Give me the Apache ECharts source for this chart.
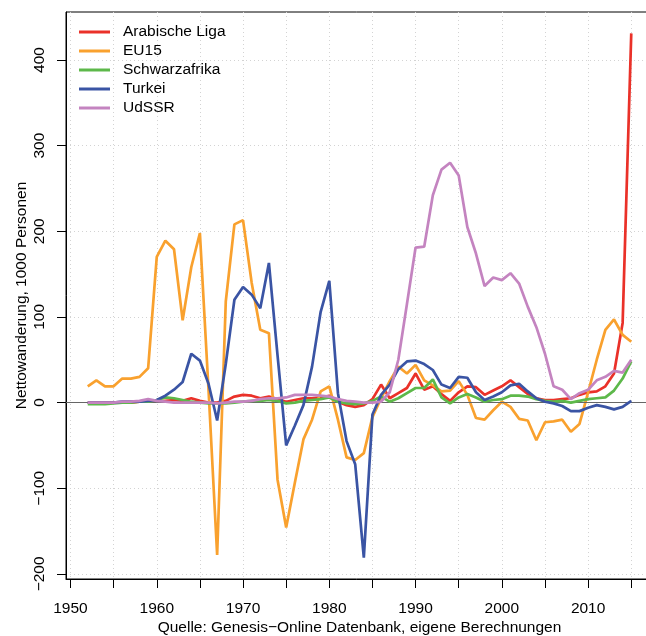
<!DOCTYPE html>
<html>
<head>
<meta charset="utf-8">
<script src="https://cdn.jsdelivr.net/npm/echarts@6/dist/echarts.min.js"></script>
<style>
    html, body { margin: 0; padding: 0; background: #fff; }
    #chart { width: 646px; height: 636px; }
</style>
</head>
<body>
<div id="chart"></div>
<script>
    var years = [1952, 1953, 1954, 1955, 1956, 1957, 1958, 1959, 1960, 1961, 1962, 1963, 1964, 1965, 1966, 1967,
        1968, 1969, 1970, 1971, 1972, 1973, 1974, 1975, 1976, 1977, 1978, 1979, 1980, 1981, 1982, 1983,
        1984, 1985, 1986, 1987, 1988, 1989, 1990, 1991, 1992, 1993, 1994, 1995, 1996, 1997, 1998, 1999,
        2000, 2001, 2002, 2003, 2004, 2005, 2006, 2007, 2008, 2009, 2010, 2011, 2012, 2013, 2014, 2015];

    var arabischeLiga = [0, 0, 0, 0, 0, 0, 1, 1, 1, 2, 3, 2, 5, 2, 0, 0,
        2, 7, 9, 8, 5, 7, 4, 1, 3, 5, 5, 6, 8, 1, -3, -5,
        -3, 4, 21, 5, 11, 17, 34, 15, 19, 10, 2, 12, 19, 18, 9, 14,
        19, 26, 18, 10, 5, 3, 3, 4, 5, 9, 12, 13, 19, 34, 93, 431];

    var eu15 = [19, 26, 19, 19, 28, 28, 30, 40, 170, 189, 179, 96, 158, 198, 15, -178,
        118, 208, 213, 140, 85, 81, -90, -146, -94, -43, -20, 13, 19, -20, -64, -67,
        -59, -17, 5, 25, 42, 34, 44, 26, 20, 13, 14, 25, 9, -18, -20, -9,
        1, -5, -19, -21, -44, -23, -22, -20, -34, -25, 12, 50, 85, 97, 79, 71];

    var schwarzafrika = [-2, -2, -2, -1, 0, 0, 1, 1, 3, 6, 5, 3, 1, 0, -1, -1,
        -1, 0, 1, 2, 2, 3, 2, -1, 0, 2, 3, 4, 6, 1, -1, -2,
        -1, 2, 7, 1, 5, 11, 17, 17, 27, 6, -1, 6, 10, 6, 1, 3,
        4, 8, 8, 7, 4, 2, 1, 2, 0, 2, 4, 5, 6, 14, 28, 48];

    var turkei = [0, 0, 0, 0, 1, 1, 1, 2, 3, 8, 15, 24, 57, 49, 22, -21,
        45, 120, 135, 126, 110, 163, 55, -50, -27, -3, 42, 106, 142, 11, -45, -72,
        -181, -14, 9, 21, 39, 48, 49, 45, 38, 21, 17, 30, 29, 12, 3, 7,
        12, 20, 22, 13, 5, 1, -1, -4, -10, -10, -6, -3, -5, -8, -5, 2];

    var udssr = [0, 0, 0, 0, 1, 1, 2, 4, 2, 1, 0, 0, 0, 0, 0, -1,
        0, 1, 1, 2, 4, 5, 5, 6, 9, 9, 9, 8, 7, 4, 2, 1,
        0, 0, 1, 12, 50, 115, 181, 182, 242, 272, 280, 265, 205, 174, 136, 146,
        143, 151, 139, 112, 88, 57, 19, 15, 4, 11, 15, 26, 30, 37, 35, 50];

    var seriesNames = ['Arabische Liga', 'EU15', 'Schwarzafrika', 'Turkei', 'UdSSR'];
    var seriesValues = [arabischeLiga, eu15, schwarzafrika, turkei, udssr];
    var seriesColors = ['#EA3129', '#F9A12E', '#5DB84A', '#3A54A4', '#C484C0'];

    var xTicks = [1950, 1955, 1960, 1965, 1970, 1975, 1980, 1985, 1990, 1995, 2000, 2005, 2010, 2015];
    var xLabels = [1950, 1960, 1970, 1980, 1990, 2000, 2010];
    var yTicks = [-200, -100, 0, 100, 200, 300, 400];

    var font = 'Liberation Sans, Arial, Helvetica, sans-serif';

    function pairs(values) {
        return years.map(function (y, i) { return [y, values[i]]; });
    }

    var series = seriesNames.map(function (name, i) {
        var s = {
            name: name,
            type: 'line',
            data: pairs(seriesValues[i]),
            symbol: 'none',
            lineStyle: { width: 2.7, color: seriesColors[i] },
            itemStyle: { color: seriesColors[i] },
            z: 3 + i
        };
        if (i === 0) {
            // h = 0 Referenzlinie
            s.markLine = {
                silent: true,
                symbol: ['none', 'none'],
                label: { show: false },
                lineStyle: { color: '#666', width: 1, type: 'solid' },
                data: [{ yAxis: 0 }]
            };
        }
        return s;
    });

    var myChart = echarts.init(document.getElementById('chart'));

    var option = {
        animation: false,
        textStyle: { fontFamily: font },
        grid: {
            left: 66,
            right: -7,
            top: 12,
            bottom: 57,
            outerBoundsMode: 'none',
            show: true,
            borderColor: '#000',
            borderWidth: 1
        },
        legend: {
            orient: 'vertical',
            left: 79,
            top: 22.5,
            padding: 0,
            icon: 'rect',
            itemWidth: 31,
            itemHeight: 3,
            itemGap: 0,
            data: seriesNames,
            textStyle: { fontSize: 15.5, color: '#000', lineHeight: 19, padding: [0, 0, 0, 8] }
        },
        xAxis: {
            type: 'value',
            min: 1949.48,
            max: 2017.52,
            name: 'Quelle: Genesis\u2212Online Datenbank, eigene Berechnungen',
            nameLocation: 'middle',
            nameGap: 41,
            nameMoveOverlap: false,
            nameTextStyle: { fontSize: 15.5, color: '#000' },
            axisLine: { show: true, onZero: false, lineStyle: { color: '#000', width: 1 } },
            axisTick: { show: true, length: 9, customValues: xTicks, lineStyle: { color: '#000' } },
            axisLabel: {
                customValues: xLabels,
                margin: 22,
                fontSize: 15.5,
                color: '#000',
                formatter: function (v) { return String(v); }
            },
            splitLine: { show: true, lineStyle: { color: '#d3d3d3', width: 1, type: [1, 3] } }
        },
        yAxis: {
            type: 'value',
            min: -206,
            max: 456,
            name: 'Nettowanderung, 1000 Personen',
            nameLocation: 'middle',
            nameRotate: 90,
            nameGap: 36,
            nameMoveOverlap: false,
            nameTextStyle: { fontSize: 15.5, color: '#000' },
            axisLine: { show: true, onZero: false, lineStyle: { color: '#000', width: 1 } },
            axisTick: { show: true, length: 9, customValues: yTicks, lineStyle: { color: '#000' } },
            axisLabel: {
                customValues: yTicks,
                rotate: 90,
                margin: 18,
                fontSize: 15.5,
                color: '#000',
                formatter: function (v) { return v < 0 ? '\u2212' + Math.abs(v) : String(v); }
            },
            splitLine: { show: true, lineStyle: { color: '#d3d3d3', width: 1, type: [1, 3] } }
        },
        series: series
    };

    myChart.setOption(option);
</script>
</body>
</html>
